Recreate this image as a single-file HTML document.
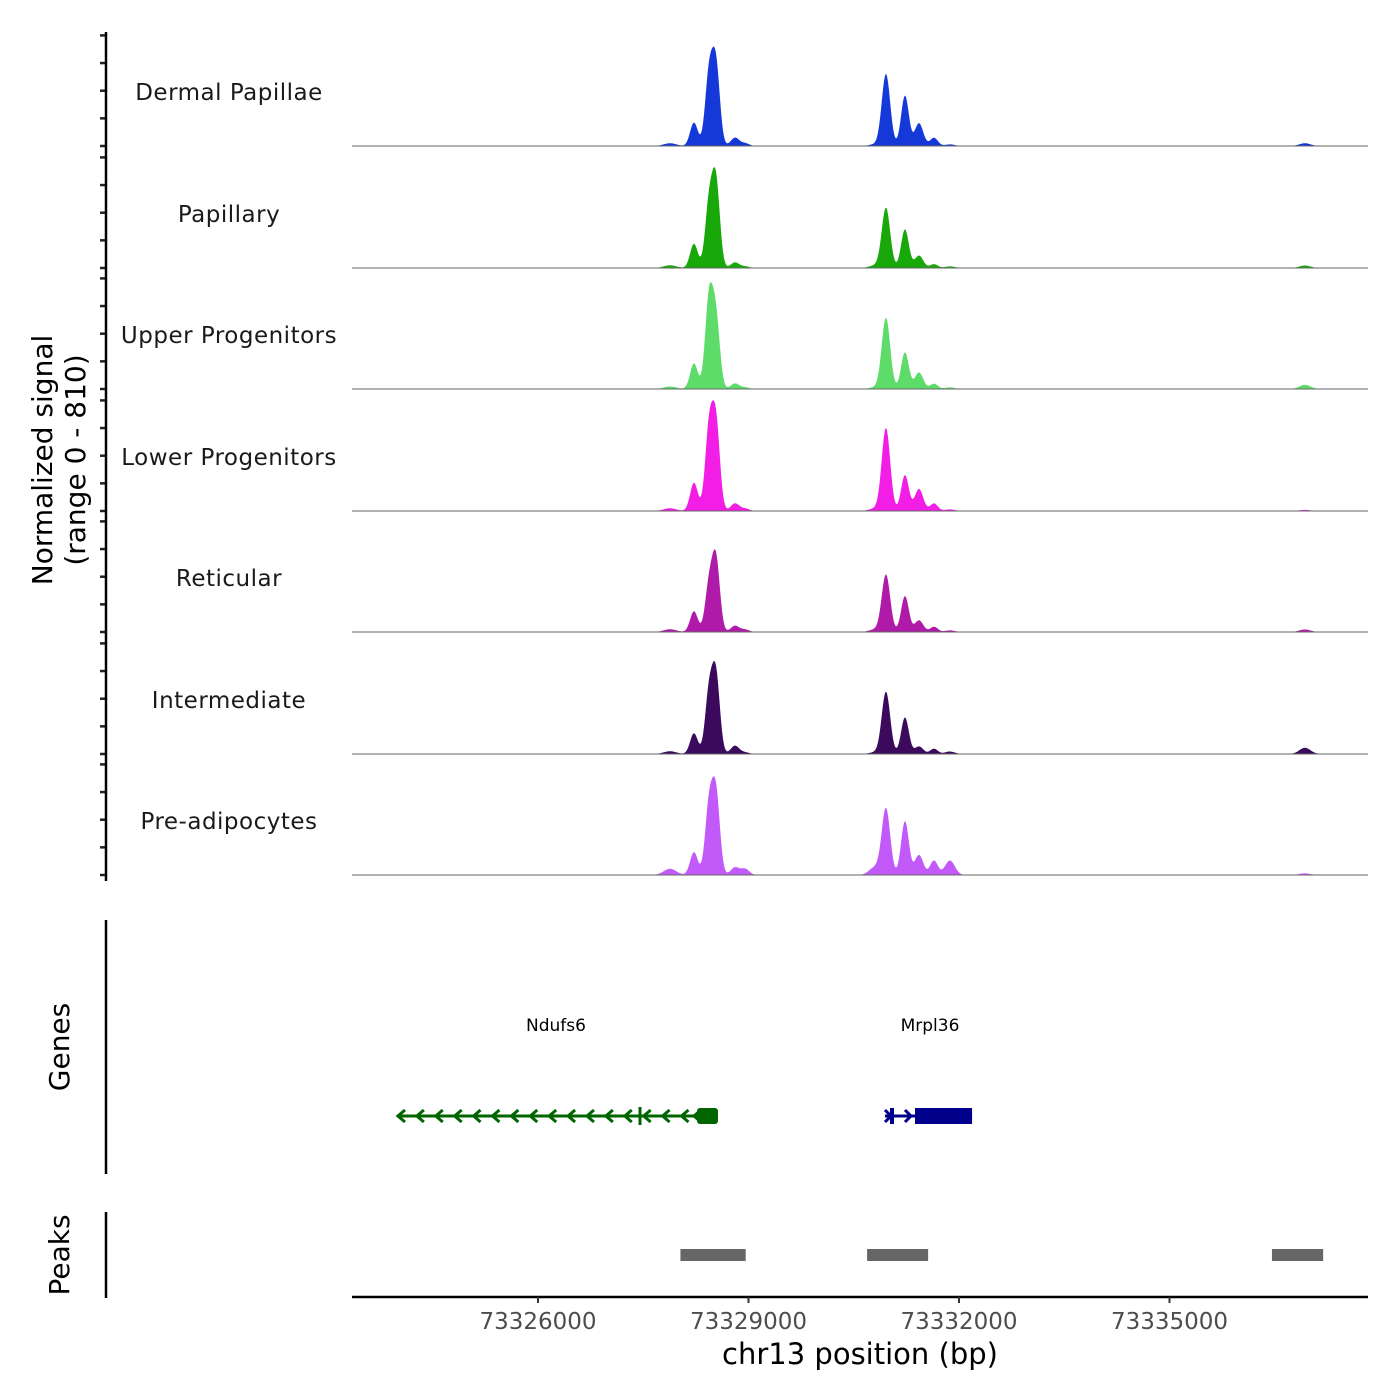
<!DOCTYPE html>
<html><head><meta charset="utf-8"><style>
body{margin:0;background:#fff}
svg{display:block;font-family:"Liberation Sans","DejaVu Sans",sans-serif}
</style></head><body>
<svg id="chart" width="1400" height="1400" viewBox="0 0 1400 1400" xmlns="http://www.w3.org/2000/svg">
<rect width="1400" height="1400" fill="#fff"/>
<g id="tracks"></g>
<g id="axes"></g>
<text transform="translate(52,460) rotate(-90)" text-anchor="middle" font-size="28" font-family="DejaVu Sans, sans-serif">Normalized signal</text>
<text transform="translate(85,460) rotate(-90)" text-anchor="middle" font-size="28" font-family="DejaVu Sans, sans-serif">(range 0 - 810)</text>
<text transform="translate(69,1047) rotate(-90)" text-anchor="middle" font-size="28" font-family="DejaVu Sans, sans-serif">Genes</text>
<text transform="translate(69,1255) rotate(-90)" text-anchor="middle" font-size="28" font-family="DejaVu Sans, sans-serif">Peaks</text>
<text x="860" y="1364" text-anchor="middle" font-size="29" font-family="DejaVu Sans, sans-serif">chr13 position (bp)</text>
</svg>
<script>
const trackNames = ["Dermal Papillae","Papillary","Upper Progenitors","Lower Progenitors","Reticular","Intermediate","Pre-adipocytes"];
const trackColors = ["#1538d8","#18a80a","#5ddc6a","#f21ee6","#b01aa8","#3b0a5c","#c15af8"];
const peakCenters = [73327881,73328223,73328437,73328537,73328807,73328950,73330800,73330959,73331230,73331430,73331643,73331870,73336930];
const peakWidths  = [90,55,55,55,60,60,80,60,55,60,55,70,80];
const trackHeights = [
 [20,170,506,573,60,20,12,520,365,165,60,12,20],
 [20,175,454,612,40,12,18,435,280,90,28,12,18],
 [18,185,642,498,40,12,12,515,265,120,38,12,30],
 [20,205,581,627,55,18,18,600,260,160,55,12,8],
 [20,150,332,518,45,18,18,415,260,85,38,12,18],
 [20,150,434,557,60,12,12,450,265,55,38,18,45],
 [45,165,491,576,55,45,55,480,390,145,105,105,12]
];
const xTicks = [73326000,73329000,73332000,73335000];
const yTicks = [0,200,400,600,800];
const geneNames = ["Ndufs6","Mrpl36"];
const geneStarts = [73323990,73330945];
const geneEnds = [73328565,73332186];
const geneThickStarts = [73328266,73331373];
const peakStarts = [73328030,73330690,73336460];
const peakEnds = [73328960,73331560,73337190];
const yMax = 810;

const NS="http://www.w3.org/2000/svg";
const X0=352,X1=1368;
function xs(bp){return 538+(bp-73326000)*(210.5/3000);}
function bpAt(px){return 73326000+(px-538)*3000/210.5;}
const baselines=[146,268,389,511,632,754,875];
function ys(v,i){return baselines[i]-v*(110.6/800);}
function mk(tag,attrs,parent){const e=document.createElementNS(NS,tag);for(const k in attrs)e.setAttribute(k,attrs[k]);parent.appendChild(e);return e;}
const tracks=document.getElementById('tracks');
const axes=document.getElementById('axes');

trackNames.forEach((name,i)=>{
  let d="M"+X0+","+baselines[i];
  for(let px=X0;px<=X1;px++){
    const bp=bpAt(px);let v=0;
    peakCenters.forEach((c,k)=>{const z=(bp-c)/peakWidths[k];v+=trackHeights[i][k]*Math.exp(-0.5*z*z);});
    d+=" L"+px+","+ys(Math.min(v,yMax),i).toFixed(2);
  }
  d+=" L"+X1+","+baselines[i]+" Z";
  const p=mk('path',{d:d,fill:trackColors[i]},tracks);
  
  
  const bl=mk('line',{x1:X0,x2:X1,y1:baselines[i],y2:baselines[i],stroke:'#666','stroke-width':1},tracks);
  
  
  const t=mk('text',{x:229,y:baselines[i]-46,'text-anchor':'middle','font-size':23,fill:'#1a1a1a','font-family':'DejaVu Sans, sans-serif','letter-spacing':'0.5'},tracks);
  t.textContent=name;
  
  
  yTicks.forEach(v=>{
    const tk=mk('line',{x1:100,x2:106,y1:ys(v,i),y2:ys(v,i),stroke:'#222','stroke-width':2.5},axes);
    
    
  });
});
const ya=mk('line',{x1:106,x2:106,y1:32,y2:881,stroke:'#000','stroke-width':2.5},axes);


const ga=mk('line',{x1:106,x2:106,y1:920,y2:1174,stroke:'#000','stroke-width':2.5},axes);


const pa=mk('line',{x1:106,x2:106,y1:1212,y2:1298,stroke:'#000','stroke-width':2.5},axes);


const xa=mk('line',{x1:X0,x2:X1,y1:1297,y2:1297,stroke:'#000','stroke-width':2.5},axes);


xTicks.forEach(v=>{
  const tk=mk('line',{x1:xs(v),x2:xs(v),y1:1297,y2:1303,stroke:'#333','stroke-width':2},axes);
  
  
  const tl=mk('text',{x:xs(v),y:1329,'text-anchor':'middle','font-size':23,fill:'#4d4d4d','font-family':'DejaVu Sans, sans-serif'},axes);
  tl.textContent=String(v);
  
  
});

const gcol=["#006400","#00008b"];
const gy=1116;
geneNames.forEach((g,i)=>{
  const x1=xs(geneStarts[i]),x2=xs(geneEnds[i]),xt=xs(geneThickStarts[i]);
  const grp=mk('g',{},tracks);
  
  
  mk('line',{x1:x1,x2:x2,y1:gy,y2:gy,stroke:gcol[i],'stroke-width':3},grp);
  if(i===0){
    mk('rect',{x:xt,y:gy-8,width:x2-xt,height:16,rx:3,fill:gcol[i]},grp);
    for(let x=x1+1;x<xt-8;x+=18.9){mk('path',{d:`M${x+7},${gy-6} L${x},${gy} L${x+7},${gy+6}`,stroke:gcol[i],'stroke-width':3,fill:'none'},grp);}
    mk('path',{d:`M${xt+4},${gy-6} L${xt-3},${gy} L${xt+4},${gy+6}`,stroke:gcol[i],'stroke-width':3,fill:'none'},grp);
    mk('line',{x1:640,x2:640,y1:gy-9,y2:gy+9,stroke:gcol[i],'stroke-width':3},grp);
  } else {
    mk('rect',{x:xt,y:gy-8,width:x2-xt,height:16,fill:gcol[i]},grp);
    mk('line',{x1:892,x2:892,y1:gy-8,y2:gy+8,stroke:gcol[i],'stroke-width':4},grp);
    mk('path',{d:`M${x1},${gy-6} L${x1+6},${gy} L${x1},${gy+6} M${x1+20},${gy-6} L${x1+26},${gy} L${x1+20},${gy+6}`,stroke:gcol[i],'stroke-width':3,fill:'none'},grp);
  }
  const gl=mk('text',{x:(i===0?556:930),y:1031,'text-anchor':'middle','font-size':17,fill:'#000','font-family':'DejaVu Sans, sans-serif'},tracks);
  gl.textContent=g;
  
  
});
peakStarts.forEach((s,i)=>{
  const r=mk('rect',{x:xs(s),y:1249,width:xs(peakEnds[i])-xs(s),height:12,fill:'#666'},tracks);
  
  
});
</script>
</body></html>
